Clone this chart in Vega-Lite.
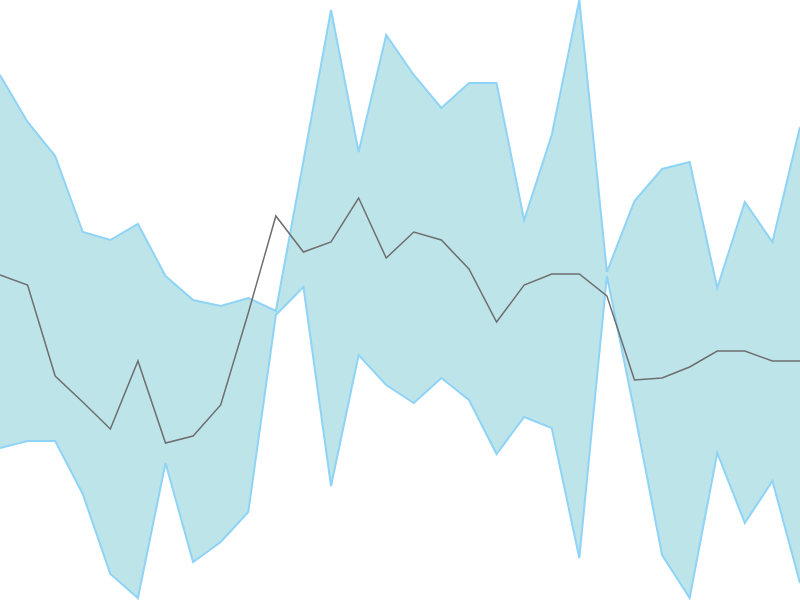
{
  "$schema": "https://vega.github.io/schema/vega-lite/v6.json",
  "autosize": {"type": "none"},
  "width": 800,
  "height": 600,
  "padding": 0,
  "background": "white",
  "config": {"view": {"stroke": null}},
  "data": {
    "values": [
      {"i": 0, "upper": 525, "lower": 152, "mean": 325},
      {"i": 1, "upper": 478, "lower": 159, "mean": 315},
      {"i": 2, "upper": 444, "lower": 159, "mean": 224},
      {"i": 3, "upper": 368, "lower": 106, "mean": 198},
      {"i": 4, "upper": 360, "lower": 26, "mean": 171},
      {"i": 5, "upper": 376, "lower": 2, "mean": 239},
      {"i": 6, "upper": 324, "lower": 137, "mean": 157},
      {"i": 7, "upper": 300, "lower": 38, "mean": 164},
      {"i": 8, "upper": 294, "lower": 58, "mean": 195},
      {"i": 9, "upper": 302, "lower": 88, "mean": 287},
      {"i": 10, "upper": 289, "lower": 285, "mean": 384},
      {"i": 11, "upper": 439, "lower": 313, "mean": 348},
      {"i": 12, "upper": 590, "lower": 114, "mean": 358},
      {"i": 13, "upper": 448, "lower": 245, "mean": 402},
      {"i": 14, "upper": 565, "lower": 215, "mean": 342},
      {"i": 15, "upper": 525, "lower": 197, "mean": 368},
      {"i": 16, "upper": 492, "lower": 222, "mean": 360},
      {"i": 17, "upper": 517, "lower": 200, "mean": 331},
      {"i": 18, "upper": 517, "lower": 146, "mean": 278},
      {"i": 19, "upper": 380, "lower": 183, "mean": 315},
      {"i": 20, "upper": 465, "lower": 172, "mean": 326},
      {"i": 21, "upper": 600, "lower": 42, "mean": 326},
      {"i": 22, "upper": 328, "lower": 324, "mean": 304},
      {"i": 23, "upper": 399, "lower": 188, "mean": 220},
      {"i": 24, "upper": 431, "lower": 45, "mean": 222},
      {"i": 25, "upper": 438, "lower": 2, "mean": 233},
      {"i": 26, "upper": 312, "lower": 147, "mean": 249},
      {"i": 27, "upper": 398, "lower": 77, "mean": 249},
      {"i": 28, "upper": 358, "lower": 119, "mean": 239},
      {"i": 29, "upper": 473, "lower": 17, "mean": 239}
    ]
  },
  "encoding": {
    "x": {
      "field": "i",
      "type": "quantitative",
      "scale": {"domain": [0, 29], "nice": false, "zero": false},
      "axis": null
    }
  },
  "layer": [
    {
      "mark": {"type": "area", "color": "#bde4e9", "opacity": 1},
      "encoding": {
        "y": {
          "field": "upper",
          "type": "quantitative",
          "scale": {"domain": [0, 600], "nice": false},
          "axis": null
        },
        "y2": {"field": "lower"}
      }
    },
    {
      "mark": {"type": "line", "color": "#8fd3f6", "strokeWidth": 2},
      "encoding": {"y": {"field": "upper", "type": "quantitative"}}
    },
    {
      "mark": {"type": "line", "color": "#8fd3f6", "strokeWidth": 2},
      "encoding": {"y": {"field": "lower", "type": "quantitative"}}
    },
    {
      "mark": {"type": "line", "color": "#6e6e6e", "strokeWidth": 1.5},
      "encoding": {"y": {"field": "mean", "type": "quantitative"}}
    }
  ]
}
